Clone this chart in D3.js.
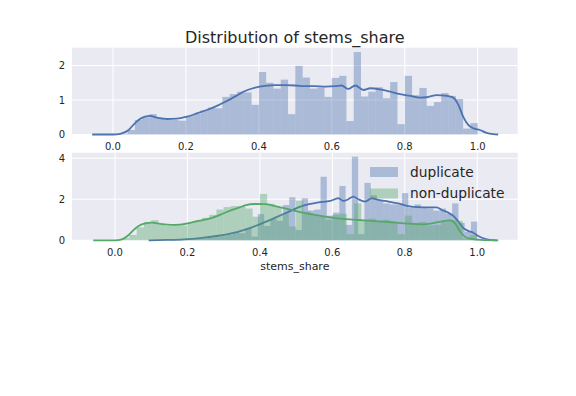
<!DOCTYPE html>
<meta charset="utf-8">
<style>
body { margin: 0; background: #fff; }
text { font-family: "DejaVu Sans", sans-serif; fill: #262626; }
.bg { fill: #eaeaf2; }
.grid line { stroke: #fff; stroke-width: 1.1; }
.kde { fill: none; stroke-width: 1.8; }
</style>
<svg width="576" height="396"></svg>
<script src="https://d3js.org/d3.v7.min.js"></script>
<script>

// all rows: 50 bins of 0.02 on [0, 1]
var allBinStart = 0, allBinWidth = 0.02;
var allHist = [0.00, 0.02, 0.13, 0.42, 0.50, 0.59, 0.49, 0.42, 0.42, 0.40,
               0.54, 0.60, 0.70, 0.78, 0.76, 1.09, 1.17, 1.24, 1.22, 0.86,
               1.81, 1.50, 1.33, 1.59, 0.59, 1.99, 1.65, 1.33, 1.36, 1.09,
               1.64, 1.70, 0.39, 2.39, 1.10, 1.24, 1.37, 1.05, 1.52, 0.30,
               1.70, 1.14, 1.35, 0.83, 0.94, 1.20, 1.12, 1.03, 0.17, 0.33];
var allKde = [[-0.057, 0], [0.0, 0.0], [0.02, 0.02], [0.043, 0.13], [0.056, 0.28], [0.07, 0.42],
              [0.088, 0.52], [0.102, 0.54], [0.12, 0.49], [0.148, 0.45], [0.175, 0.46], [0.2, 0.51],
              [0.23, 0.61], [0.257, 0.71], [0.285, 0.83], [0.312, 0.97], [0.34, 1.13], [0.362, 1.26],
              [0.39, 1.36], [0.417, 1.41], [0.444, 1.43], [0.472, 1.43], [0.5, 1.42], [0.527, 1.40],
              [0.554, 1.40], [0.582, 1.39], [0.609, 1.40], [0.627, 1.42], [0.645, 1.32], [0.664, 1.42],
              [0.687, 1.29], [0.705, 1.34], [0.732, 1.31], [0.76, 1.24], [0.787, 1.17], [0.815, 1.12],
              [0.842, 1.07], [0.86, 1.08], [0.888, 1.14], [0.915, 1.12], [0.933, 1.07], [0.947, 0.86],
              [0.96, 0.52], [0.974, 0.28], [0.988, 0.18], [1.006, 0.13], [1.024, 0.05], [1.043, 0.01],
              [1.056, 0]];

// duplicate rows: 50 bins on [0.135, 1]
var dupBinStart = 0.135, dupBinWidth = 0.0173;
var dupHist = [0.00, 0.01, 0.01, 0.03, 0.04, 0.06, 0.08, 0.12, 0.15, 0.20,
               0.28, 0.40, 0.35, 0.60, 0.18, 1.28, 0.70, 1.05, 0.95, 1.72,
               2.10, 0.50, 2.05, 1.45, 1.50, 3.10, 1.20, 1.35, 2.65, 0.75,
               4.08, 0.30, 2.80, 2.20, 1.95, 1.80, 1.75, 1.75, 2.30, 1.60,
               1.75, 1.60, 1.55, 1.45, 1.55, 1.30, 1.80, 0.85, 0.42, 0.91];
var dupKde = [[0.093, 0], [0.143, 0.02], [0.189, 0.05], [0.235, 0.11], [0.281, 0.21], [0.33, 0.38],
              [0.346, 0.45], [0.378, 0.63], [0.424, 0.96], [0.47, 1.32], [0.516, 1.67], [0.562, 1.85],
              [0.594, 1.92], [0.617, 2.05], [0.631, 1.92], [0.644, 2.0], [0.658, 2.13], [0.672, 2.0],
              [0.69, 1.89], [0.709, 2.05], [0.727, 1.97], [0.755, 1.89], [0.782, 1.8], [0.81, 1.67],
              [0.837, 1.62], [0.87, 1.61], [0.888, 1.61], [0.902, 1.48], [0.92, 1.35], [0.934, 1.19],
              [0.948, 0.91], [0.962, 0.59], [0.975, 0.46], [0.989, 0.37], [1.003, 0.21], [1.017, 0.10],
              [1.035, 0.02], [1.054, 0]];

// non-duplicate rows: 50 bins of 0.02 on [0, 1]
var nonBinStart = 0, nonBinWidth = 0.02;
var nonHist = [0.02, 0.10, 0.26, 0.63, 0.90, 0.98, 0.78, 0.70, 0.74, 0.72,
               0.88, 0.97, 1.10, 1.24, 1.50, 1.62, 1.67, 1.66, 1.55, 1.15,
               2.26, 1.78, 1.62, 1.30, 0.67, 1.93, 1.40, 1.24, 1.15, 1.00,
               1.25, 1.30, 0.30, 1.80, 1.00, 1.05, 0.90, 1.00, 0.85, 0.30,
               1.20, 0.85, 0.90, 0.72, 0.75, 0.90, 1.00, 0.95, 0.10, 0.25];
var nonKde = [[-0.06, 0], [0.0, 0.0], [0.019, 0.05], [0.038, 0.26], [0.051, 0.5], [0.065, 0.7],
              [0.084, 0.83], [0.102, 0.86], [0.125, 0.8], [0.153, 0.75], [0.18, 0.76], [0.208, 0.85],
              [0.235, 0.96], [0.263, 1.07], [0.29, 1.24], [0.318, 1.45], [0.346, 1.62], [0.359, 1.70],
              [0.387, 1.77], [0.415, 1.76], [0.442, 1.67], [0.47, 1.56], [0.497, 1.43], [0.525, 1.32],
              [0.552, 1.24], [0.58, 1.15], [0.626, 1.04], [0.672, 0.99], [0.718, 0.94], [0.764, 0.88],
              [0.81, 0.81], [0.851, 0.78], [0.879, 0.84], [0.906, 0.94], [0.925, 0.97], [0.939, 0.83],
              [0.953, 0.42], [0.966, 0.18], [0.98, 0.08], [0.999, 0.03], [1.026, 0.01], [1.058, 0]];

var xTicks = [0.0, 0.2, 0.4, 0.6, 0.8, 1.0];
var topYTicks = [0, 1, 2];
var botYTicks = [0, 2, 4];
var legendLabels = ["duplicate", "non-duplicate"];

var blue = "#4c72b0", green = "#55a868";

var svg = d3.select("svg");

function panel(box, xDomain, yDomain, yTicks) {
  var x = d3.scaleLinear().domain(xDomain).range([box.left, box.right]);
  var y = d3.scaleLinear().domain(yDomain).range([box.bottom, box.top]);
  var g = svg.append("g");

  g.append("rect").attr("class", "bg")
    .attr("x", box.left).attr("y", box.top)
    .attr("width", box.right - box.left).attr("height", box.bottom - box.top);

  var grid = g.append("g").attr("class", "grid");
  grid.selectAll(".gx").data(xTicks).enter().append("line")
    .attr("x1", function(d) { return x(d); }).attr("x2", function(d) { return x(d); })
    .attr("y1", box.top).attr("y2", box.bottom);
  grid.selectAll(".gy").data(yTicks).enter().append("line")
    .attr("y1", function(d) { return y(d); }).attr("y2", function(d) { return y(d); })
    .attr("x1", box.left).attr("x2", box.right);

  g.selectAll(".xt").data(xTicks).enter().append("text")
    .attr("x", function(d) { return x(d); })
    .attr("y", box.bottom + 15.5)
    .attr("text-anchor", "middle")
    .style("font-size", "10px")
    .text(d3.format(".1f"));
  g.selectAll(".yt").data(yTicks).enter().append("text")
    .attr("x", box.left - 7)
    .attr("y", function(d) { return y(d); })
    .attr("dy", "0.36em")
    .attr("text-anchor", "end")
    .style("font-size", "10px")
    .text(function(d) { return d; });

  return {g: g, x: x, y: y};
}

function hist(p, start, width, values, color) {
  p.g.append("g").selectAll("rect")
    .data(values)
    .enter()
    .append("rect")
    .attr("x", function(d, i) { return p.x(start + i * width); })
    .attr("width", function(d, i) { return p.x(start + (i + 1) * width) - p.x(start + i * width); })
    .attr("y", function(d) { return p.y(d); })
    .attr("height", function(d) { return p.y(0) - p.y(d); })
    .attr("fill", color)
    .attr("fill-opacity", 0.4);
}

function kde(p, pts, color) {
  var line = d3.line()
    .x(function(d) { return p.x(d[0]); })
    .y(function(d) { return p.y(d[1]); })
    .curve(d3.curveMonotoneX);
  p.g.append("path").attr("class", "kde").attr("stroke", color).attr("d", line(pts));
}

var topPanel = panel({left: 72, right: 517.7, top: 47.7, bottom: 134.5}, [-0.1123, 1.1096], [0, 2.516], topYTicks);
hist(topPanel, allBinStart, allBinWidth, allHist, blue);
kde(topPanel, allKde, blue);

var botPanel = panel({left: 72, right: 517.7, top: 152.7, bottom: 240.3}, [-0.1186, 1.1117], [0, 4.273], botYTicks);
hist(botPanel, dupBinStart, dupBinWidth, dupHist, blue);
kde(botPanel, dupKde, blue);
hist(botPanel, nonBinStart, nonBinWidth, nonHist, green);
kde(botPanel, nonKde, green);

svg.append("text")
  .attr("x", 294.8).attr("y", 43)
  .attr("text-anchor", "middle")
  .style("font-size", "16px")
  .text("Distribution of stems_share");

svg.append("text")
  .attr("x", 294.8).attr("y", 270)
  .attr("text-anchor", "middle")
  .style("font-size", "11px")
  .text("stems_share");

var legend = svg.append("g").selectAll("g")
  .data(legendLabels)
  .enter()
  .append("g")
  .attr("transform", function(d, i) { return "translate(370," + (167 + i * 21.5) + ")"; });
legend.append("rect")
  .attr("width", 28).attr("height", 10)
  .attr("fill", function(d, i) { return i ? green : blue; })
  .attr("fill-opacity", 0.4);
legend.append("text")
  .attr("x", 40).attr("y", 5).attr("dy", "0.36em")
  .style("font-size", "13.75px")
  .text(function(d) { return d; });

</script>
